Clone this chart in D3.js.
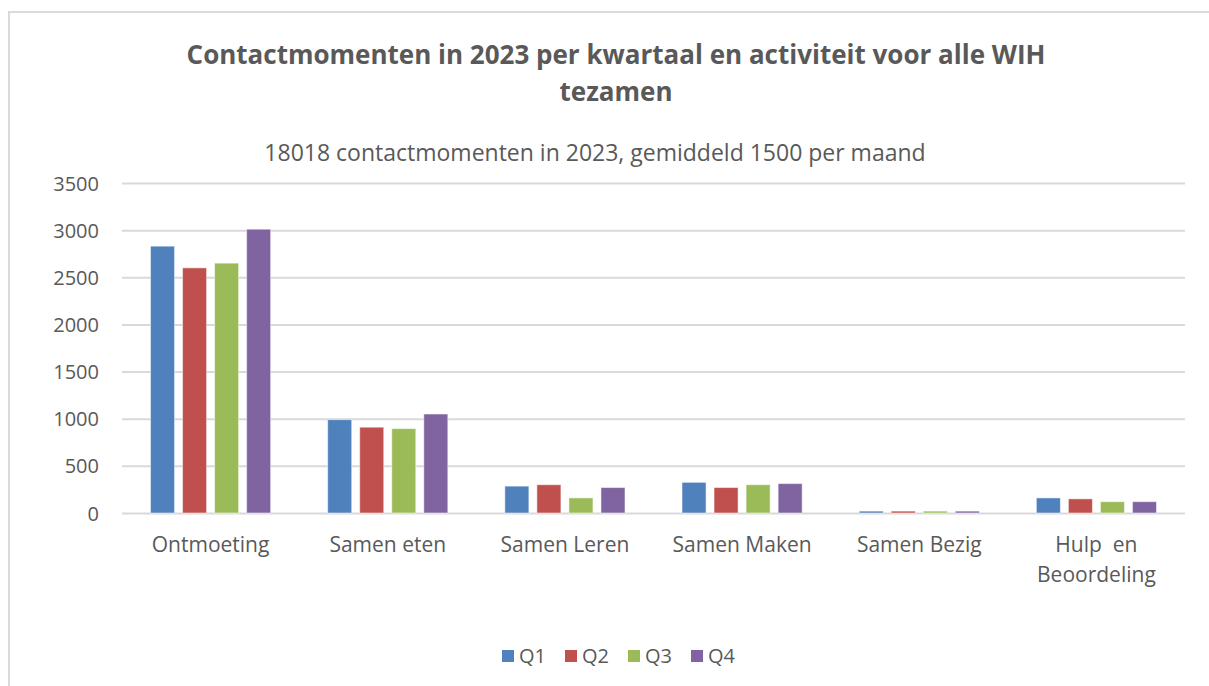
<!DOCTYPE html>
<meta charset="utf-8">
<style>
  body { margin: 0; background: #fff; }
  text { font-family: "Open Sans", sans-serif; fill: #595959; }
</style>
<body>
<script src="https://cdn.jsdelivr.net/npm/d3@7"></script>
<script>
// data
var categories = ["Ontmoeting", "Samen eten", "Samen Leren", "Samen Maken", "Samen Bezig", "Hulp  en Beoordeling"];
var quarters = ["Q1", "Q2", "Q3", "Q4"];
var q1 = [2830, 990, 285, 325, 20, 160];
var q2 = [2600, 910, 300, 270, 20, 150];
var q3 = [2650, 895, 160, 300, 20, 120];
var q4 = [3010, 1050, 270, 312, 20, 120];
var yTicks = [0, 500, 1000, 1500, 2000, 2500, 3000, 3500];
var colors = ["#4f81bd", "#c0504d", "#9bbb59", "#8064a2"];

var series = [q1, q2, q3, q4];
var width = 1209, height = 686;
var plot = {left: 122, right: 1185, top: 183, bottom: 513};

var svg = d3.select("body").append("svg")
    .attr("width", width)
    .attr("height", height);

// chart frame
svg.append("rect")
    .attr("x", 9).attr("y", 12)
    .attr("width", width + 10).attr("height", height + 10)
    .attr("fill", "#fff")
    .attr("stroke", "#d9d9d9")
    .attr("stroke-width", 2);

// titles
var title = svg.append("text")
    .attr("text-anchor", "middle")
    .style("font-size", "26px")
    .style("font-weight", "bold");
title.append("tspan").attr("x", 616).attr("y", 64)
    .text("Contactmomenten in 2023 per kwartaal en activiteit voor alle WIH");
title.append("tspan").attr("x", 616).attr("y", 101).text("tezamen");

svg.append("text")
    .attr("x", 595).attr("y", 161)
    .attr("text-anchor", "middle")
    .style("font-size", "23px")
    .text("18018 contactmomenten in 2023, gemiddeld 1500 per maand");

// scales
var y = d3.scaleLinear().domain([0, 3500]).range([plot.bottom, plot.top]);
var x0 = d3.scaleBand().domain(categories).range([plot.left, plot.right]).padding(0);
var x1 = d3.scaleBand().domain(quarters).range([0, x0.bandwidth()])
    .paddingInner(0.25).paddingOuter(0.89);

// gridlines + y labels
var yAxis = svg.append("g")
    .attr("transform", "translate(" + plot.left + ",0)")
    .call(d3.axisLeft(y).tickValues(yTicks).tickFormat(d3.format("d"))
        .tickSize(-(plot.right - plot.left)).tickPadding(23));
yAxis.select(".domain").remove();
yAxis.selectAll("line").attr("stroke", "#d9d9d9").attr("stroke-width", 2);
yAxis.selectAll("text").style("font-size", "20px").attr("dy", "0.35em");

// bars
var groups = svg.selectAll(".cat")
    .data(categories)
    .enter().append("g")
    .attr("class", "cat")
    .attr("transform", function(d) { return "translate(" + x0(d) + ",0)"; });

groups.selectAll("rect")
    .data(function(d, i) { return quarters.map(function(q, j) { return {q: q, v: series[j][i], c: colors[j]}; }); })
    .enter().append("rect")
    .attr("x", function(d) { return x1(d.q); })
    .attr("y", function(d) { return y(d.v); })
    .attr("width", x1.bandwidth())
    .attr("height", function(d) { return y(0) - y(d.v); })
    .attr("fill", function(d) { return d.c; })
    .attr("stroke", "#fff")
    .attr("stroke-opacity", 0.5)
    .attr("stroke-width", 1);

// category labels (last one wraps onto two lines)
var xAxis = svg.append("g")
    .attr("transform", "translate(0," + plot.bottom + ")")
    .call(d3.axisBottom(x0).tickSize(0).tickFormat(""));
xAxis.select(".domain").remove();
xAxis.selectAll(".tick").each(function(d) {
    var t = d3.select(this).append("text")
        .attr("text-anchor", "middle")
        .style("font-size", "21px");
    var lines = d.indexOf("Hulp") === 0 ? ["Hulp  en", "Beoordeling"] : [d];
    lines.forEach(function(l, i) {
        t.append("tspan").attr("x", 0).attr("y", 39 + i * 30).attr("xml:space", "preserve").text(l);
    });
});

// legend
var legendX = [502, 565, 628, 691];
var legend = svg.append("g");
quarters.forEach(function(q, i) {
    var g = legend.append("g").attr("transform", "translate(" + legendX[i] + ",650)");
    g.append("rect").attr("width", 12).attr("height", 12).attr("fill", colors[i]);
    g.append("text").attr("x", 17).attr("y", 13).style("font-size", "20px").text(q);
});
</script>
</body>
